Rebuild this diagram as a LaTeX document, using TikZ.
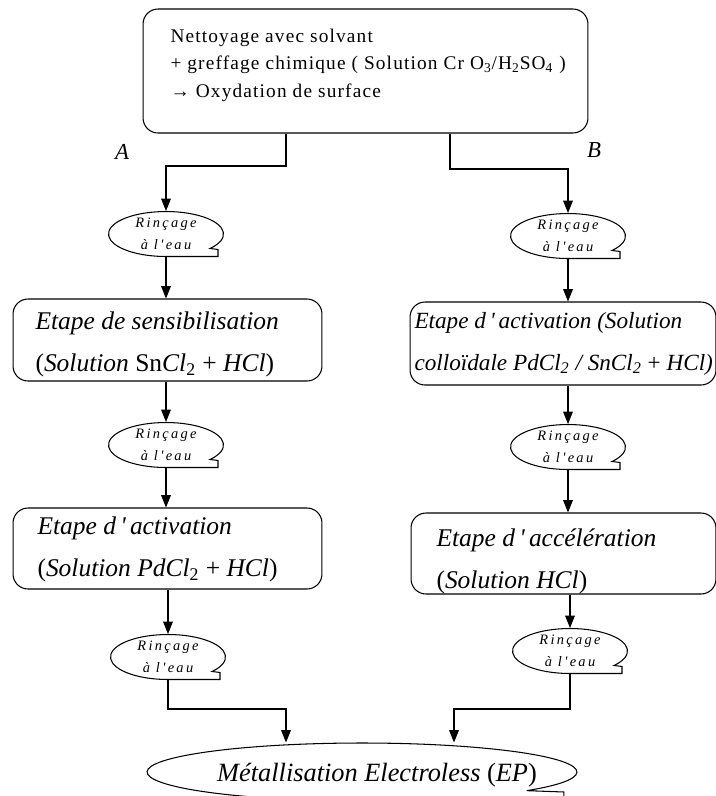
\documentclass[tikz,border=0pt]{standalone}
\usepackage{fontspec}
\setmainfont{Liberation Serif}
\newfontfamily\spacedfont[LetterSpace=6]{Liberation Serif}
\newfontfamily\rinsefont[LetterSpace=16]{Liberation Serif}
\usetikzlibrary{arrows.meta}

\tikzset{
	stepbox/.style={draw, rounded corners=0.3cm, minimum width=6.18cm, minimum height=1.64cm},
	steptext/.style={anchor=west, align=left, inner sep=0pt, font=\fontsize{14.5}{24}\selectfont},
	rinse/.style={minimum width=2.3cm, minimum height=0.9cm, inner sep=0pt, align=center, font=\rinsefont\itshape\fontsize{8.2}{12.5}\selectfont},
	branch/.style={font=\itshape\fontsize{13}{15}\selectfont}
}

\begin{document}
\begin{tikzpicture}[x=0.02cm, y=0.02cm, line width=0.6pt, >={Triangle[length=7pt,width=5.5pt]}]
	\useasboundingbox (0,0) rectangle (716,-796);
	% surface preparation
	\node [stepbox, minimum width=8.9cm, minimum height=2.48cm] (clean) at (365.5,-71) {};
	\node [anchor=west, align=left, inner sep=0pt, font=\spacedfont\fontsize{11}{15.6}\selectfont] (tclean) at (170,-65) {Nettoyage avec solvant\\+ greffage chimique ( Solution Cr O\textsubscript{3}/H\textsubscript{2}SO\textsubscript{4} )\\→ Oxydation de surface};
	\node [branch] (labA) at (122,-152) {A};
	\node [branch] (labB) at (594,-150) {B};
	\coordinate (forkA) at (286,-166);
	\coordinate (forkB) at (450,-169);
	% rinsing steps
	\node [rinse] (rA1) at (166,-234) {Rinçage\\à l\,\textquotesingle\,eau};
	\node [rinse] (rB1) at (568,-236) {Rinçage\\à l\,\textquotesingle\,eau};
	\node [rinse] (rA2) at (166,-445) {Rinçage\\à l\,\textquotesingle\,eau};
	\node [rinse] (rB2) at (568,-447) {Rinçage\\à l\,\textquotesingle\,eau};
	\node [rinse] (rA3) at (168,-657) {Rinçage\\à l\,\textquotesingle\,eau};
	\node [rinse] (rB3) at (570,-651) {Rinçage\\à l\,\textquotesingle\,eau};
	\foreach \r in {rA1,rB1,rA2,rB2,rA3,rB3}
		\draw [shift={(\r.center)}] (-40:1.15cm and 0.45cm) arc [start angle=-40, end angle=270, x radius=1.15cm, y radius=0.45cm] -- (1.04cm,-0.45cm) -- (1.04cm,-0.31cm) -- cycle;
	% route A
	\node [stepbox] (bA1) at (167.5,-340) {};
	\node [steptext] (tA1) at (35,-344) {\textit{Etape de sensibilisation}\\(\textit{Solution} Sn\textit{Cl}\textsubscript{2} + \textit{HCl})};
	\node [stepbox, minimum height=1.62cm] (bA2) at (167.5,-548.5) {};
	\node [steptext] (tA2) at (37,-549.5) {\textit{Etape d\,\textquotesingle\,activation}\\(\textit{Solution PdCl}\textsubscript{2} + \textit{HCl})};
	% route B
	\node [stepbox, minimum width=6.12cm, minimum height=1.66cm] (bB1) at (563,-343.5) {};
	\node [steptext, font=\fontsize{13.2}{24}\selectfont] (tB1) at (414,-343.5) {\textit{Etape d\,\textquotesingle\,activation (Solution}\\\textit{colloïdale PdCl\textsubscript{2} / SnCl\textsubscript{2}} + \textit{HCl)}};
	\node [stepbox, minimum width=6.1cm, minimum height=1.62cm] (bB2) at (563.5,-553.5) {};
	\node [steptext] (tB2) at (436,-561.5) {\textit{Etape d\,\textquotesingle\,accélération}\\(\textit{Solution HCl})};
	% electroless plating
	\coordinate (joinA) at (286,-709);
	\coordinate (joinB) at (454,-709);
	\node [minimum width=8.6cm, minimum height=1.16cm, inner sep=0pt] (final) at (362,-772) {};
	\node [font=\itshape\fontsize{15}{18}\selectfont] (tfinal) at (377,-775) {Métallisation Electroless \textup{(}EP\textup{)}};
	\draw [shift={(final.center)}] (-40:4.3cm and 0.58cm) arc [start angle=-40, end angle=270, x radius=4.3cm, y radius=0.58cm] -- (4.04cm,-0.58cm) -- (4.04cm,-0.4cm) -- cycle;
	% connectors
	\draw [->] (clean.south -| forkA) -- (forkA) -| (rA1.north);
	\draw [->] (clean.south -| forkB) -- (forkB) -| (rB1.north);
	\draw [->] (rA1.south) -- (rA1.south |- bA1.north);
	\draw [->] (rB1.south) -- (rB1.south |- bB1.north);
	\draw [->] (bA1.south -| rA2) -- (rA2.north);
	\draw [->] (bB1.south -| rB2) -- (rB2.north);
	\draw [->] (rA2.south) -- (rA2.south |- bA2.north);
	\draw [->] (rB2.south) -- (rB2.south |- bB2.north);
	\draw [->] (bA2.south -| rA3) -- (rA3.north);
	\draw [->] (bB2.south -| rB3) -- (rB3.north);
	\draw [->] (rA3.south) |- (joinA) -- (joinA |- final.north);
	\draw [->] (rB3.south) |- (joinB) -- (joinB |- final.north);
\end{tikzpicture}
\end{document}
